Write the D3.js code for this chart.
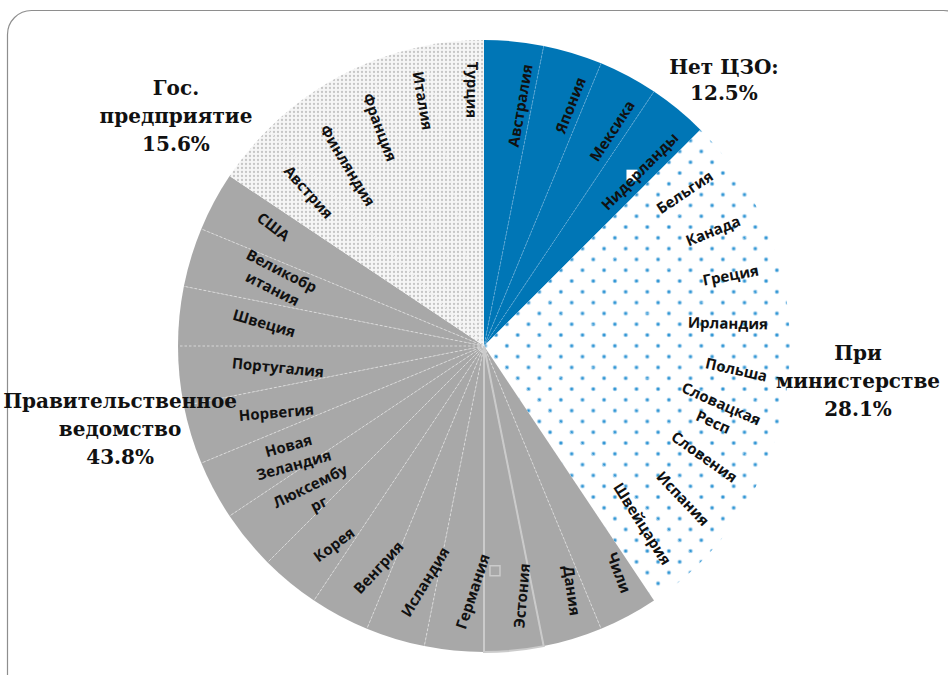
<!DOCTYPE html>
<html>
<head>
<meta charset="utf-8">
<script src="https://cdn.jsdelivr.net/npm/d3@7"></script>
<style>
  body { margin: 0; background: #fff; }
  svg { display: block; }
</style>
</head>
<body>
<svg id="chart" width="948" height="675"></svg>
<script>
// Groups, clockwise from 12 o'clock, as printed outside the pie
const groupLines = [
  ["Нет ЦЗО:"],
  ["При", "министерстве"],
  ["Правительственное", "ведомство"],
  ["Гос.", "предприятие"]
];
const groupFill = ["blue", "bluedots", "grey", "greydots"];

// Countries in pie order, and the group each belongs to
const countries = [
  "Австралия", "Япония", "Мексика", "Нидерланды",
  "Бельгия", "Канада", "Греция", "Ирландия", "Польша", "Словацкая Респ", "Словения", "Испания", "Швейцария",
  "Чили", "Дания", "Эстония", "Германия", "Исландия", "Венгрия", "Корея", "Люксембург", "Новая Зеландия",
  "Норвегия", "Португалия", "Швеция", "Великобритания", "США",
  "Австрия", "Финляндия", "Франция", "Италия", "Турция"
];
const countryGroup = [
  0, 0, 0, 0,
  1, 1, 1, 1, 1, 1, 1, 1, 1,
  2, 2, 2, 2, 2, 2, 2, 2, 2, 2, 2, 2, 2, 2,
  3, 3, 3, 3, 3
];
// Each country counts once
const countryValue = [
  1, 1, 1, 1,
  1, 1, 1, 1, 1, 1, 1, 1, 1,
  1, 1, 1, 1, 1, 1, 1, 1, 1, 1, 1, 1, 1, 1,
  1, 1, 1, 1, 1
];
// Slice labels as they wrap inside the slices
const countryLabels = [
  "Австралия", "Япония", "Мексика", "Нидерланды",
  "Бельгия", "Канада", "Греция", "Ирландия", "Польша", "Словацкая\nРесп", "Словения", "Испания", "Швейцария",
  "Чили", "Дания", "Эстония", "Германия", "Исландия", "Венгрия", "Корея", "Люксембу\nрг", "Новая\nЗеландия",
  "Норвегия", "Португалия", "Швеция", "Великобр\nитания", "США",
  "Австрия", "Финляндия", "Франция", "Италия", "Турция"
];
const highlighted = "Эстония";

const svg = d3.select("#chart");
const cx = 484, cy = 346, R = 306;

// Panel frame
svg.append("rect")
  .attr("x", 7.5).attr("y", 10.5)
  .attr("width", 960).attr("height", 700)
  .attr("rx", 24).attr("ry", 24)
  .attr("fill", "#fff")
  .attr("stroke", "#8e8e8e").attr("stroke-width", 1.2);

// Fill patterns
const defs = svg.append("defs");
const pb = defs.append("pattern")
  .attr("id", "bluedots").attr("patternUnits", "userSpaceOnUse")
  .attr("x", 649.3).attr("y", 259).attr("width", 21.6).attr("height", 21.6);
pb.append("rect").attr("width", 21.6).attr("height", 21.6).attr("fill", "#fff");
[[0, 0], [21.6, 0], [0, 21.6], [21.6, 21.6], [10.8, 10.8]].forEach(([x, y]) => {
  pb.append("circle").attr("cx", x).attr("cy", y).attr("r", 2.3).attr("fill", "#b3d8f0");
  pb.append("circle").attr("cx", x).attr("cy", y).attr("r", 1.5).attr("fill", "#3196d4");
});
const pg = defs.append("pattern")
  .attr("id", "greydots").attr("patternUnits", "userSpaceOnUse")
  .attr("width", 4).attr("height", 4);
pg.append("rect").attr("width", 4).attr("height", 4).attr("fill", "#f6f6f6");
pg.append("circle").attr("cx", 2).attr("cy", 2).attr("r", 1.15).attr("fill", "#c6c6c6");

const fills = { blue: "#0076b6", grey: "#a8a8a8", bluedots: "url(#bluedots)", greydots: "url(#greydots)" };

const items = countries.map((c, i) => ({ name: c, label: countryLabels[i], group: countryGroup[i], value: countryValue[i] }));
const pie = d3.pie().sort(null).value(d => d.value);
const arcs = pie(items);
const arc = d3.arc().innerRadius(0).outerRadius(R);

const g = svg.append("g").attr("transform", `translate(${cx},${cy})`);

g.selectAll("path.slice")
  .data(arcs)
  .join("path")
  .attr("class", "slice")
  .attr("d", arc)
  .attr("fill", d => fills[groupFill[d.data.group]]);

// Dividers between slices of the same group
const dividerStyle = [
  { stroke: "#6fb0da", dash: "2,1.5", w: 0.8 },
  null,
  { stroke: "#e2e2e2", dash: "2.5,2", w: 0.8 },
  { stroke: "#ececec", dash: "2.5,2", w: 0.8 }
];
arcs.forEach((d, i) => {
  if (i === 0) return;
  const prev = arcs[i - 1];
  if (prev.data.group !== d.data.group) return;
  const st = dividerStyle[d.data.group];
  if (!st) return;
  const a = d.startAngle;
  g.append("line")
    .attr("x1", 0).attr("y1", 0)
    .attr("x2", R * Math.sin(a)).attr("y2", -R * Math.cos(a))
    .attr("stroke", st.stroke).attr("stroke-width", st.w)
    .attr("stroke-dasharray", st.dash);
});

// Selected point outline
const selArc = arcs.find(d => d.data.name === highlighted);
g.append("path")
  .attr("d", arc(selArc))
  .attr("fill", "none")
  .attr("stroke", "#cbcbcb").attr("stroke-width", 2);

// Selection handles
function polar(deg, r) {
  const a = deg * Math.PI / 180;
  return [r * Math.sin(a), -r * Math.cos(a)];
}
const hBlue = polar(40.9, 226);
g.append("rect").attr("x", hBlue[0] - 5.5).attr("y", hBlue[1] - 5.5)
  .attr("width", 11).attr("height", 11).attr("fill", "#fff");
const hGrey = polar(selArc.endAngle * 180 / Math.PI - 2.8, 225);
g.append("rect").attr("x", hGrey[0] - 5).attr("y", hGrey[1] - 5)
  .attr("width", 10).attr("height", 10).attr("fill", "#a8a8a8")
  .attr("stroke", "#cbcbcb").attr("stroke-width", 1.5);

// Slice labels, rotated along the radius
const labelFont = 15, labelLH = 20;
// extra tilt of the label text, by slice angle
const tilt = d3.scaleLinear().domain([0, 90, 150, 200, 270, 360]).range([4, 7, 7, 15, 11, 6]);

g.selectAll("g.lbl")
  .data(arcs)
  .join("g")
  .attr("class", "lbl")
  .each(function (d) {
    const node = d3.select(this);
    const lines = d.data.label.split("\n");
    const t = node.append("text")
      .attr("text-anchor", "middle")
      .attr("font-family", "'Open Sans', sans-serif")
      .attr("font-weight", "bold")
      .attr("font-size", labelFont)
      .attr("fill", "#111");
    lines.forEach((ln, k) => {
      t.append("tspan")
        .attr("x", 0)
        .attr("y", (k - (lines.length - 1) / 2) * labelLH + labelFont * 0.36)
        .text(ln);
    });
    let w = 0;
    t.selectAll("tspan").each(function () { w = Math.max(w, this.getComputedTextLength()); });
    const mid = (d.startAngle + d.endAngle) / 2;
    const deg = mid * 180 / Math.PI;
    const a = mid + 3 * Math.cos(mid) * Math.PI / 180;
    const s = Math.max(0, -Math.sin(mid));
    const rEnd = 285 - 32 * s * s;
    const rc = rEnd - w / 2;
    const adj = deg + tilt(deg);
    const rot = adj < 180 ? adj - 90 : adj + 90;
    node.attr("transform", `translate(${rc * Math.sin(a)},${-rc * Math.cos(a)}) rotate(${rot})`);
  });

// Group labels with their shares
const total = d3.sum(countryValue);
const groupShare = groupLines.map((_, gi) =>
  d3.sum(countryValue.filter((v, i) => countryGroup[i] === gi)) / total * 100);
const groupLabelPos = [[42.0, 358.6], [95.3, 375.6], [257.2, 373.2], [306.8, 384.7]];
const gFont = 20, gLH = 28;
groupLines.forEach((lines, gi) => {
  const all = lines.concat([groupShare[gi].toFixed(1) + "%"]);
  const [px, py] = polar(groupLabelPos[gi][0], groupLabelPos[gi][1]);
  const t = g.append("text")
    .attr("text-anchor", "middle")
    .attr("font-family", "'DejaVu Serif', serif")
    .attr("font-weight", "bold")
    .attr("font-size", gFont)
    .attr("fill", "#111");
  const lh = all.length === 2 ? 26 : gLH;
  all.forEach((ln, k) => {
    t.append("tspan")
      .attr("x", px)
      .attr("y", py + (k - (all.length - 1) / 2) * lh + gFont * 0.35)
      .text(ln);
  });
});
</script>
</body>
</html>
